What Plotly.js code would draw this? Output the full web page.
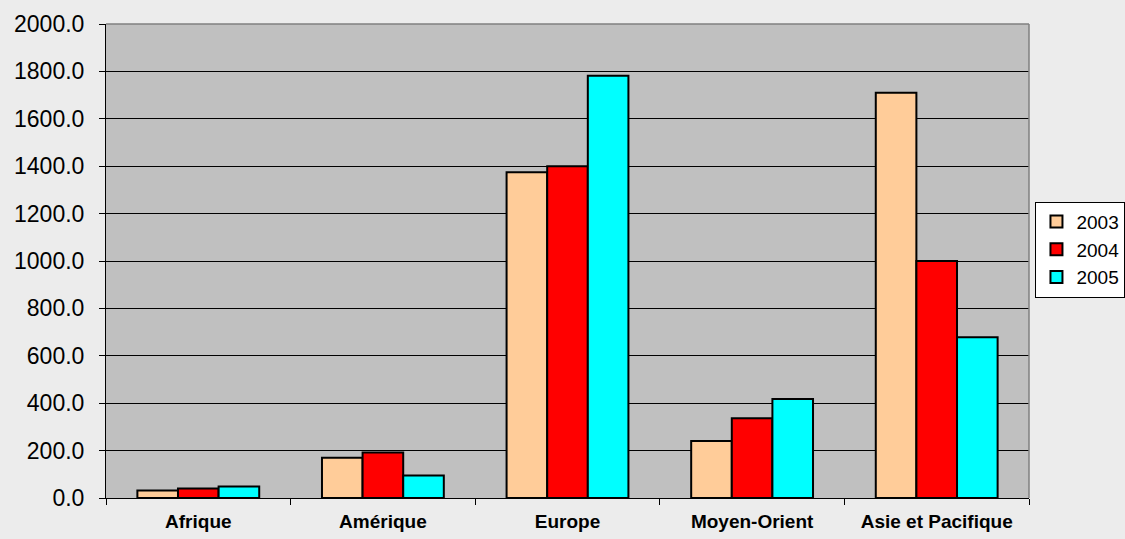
<!DOCTYPE html>
<html>
<head>
<meta charset="utf-8">
<script src="https://cdn.plot.ly/plotly-3.0.1.min.js"></script>
<style>
html,body{margin:0;padding:0;background:#ececec;}
#chart{width:1125px;height:539px;}
</style>
</head>
<body>
<div id="chart"></div>
<script>
var categories = ["Afrique", "Amérique", "Europe", "Moyen-Orient", "Asie et Pacifique"];
var values2003 = [32, 170, 1375, 240, 1710];
var values2004 = [40, 192, 1400, 337, 1000];
var values2005 = [48, 95, 1782, 418, 678];
var seriesNames = ["2003", "2004", "2005"];
var seriesColors = ["#ffcc99", "#ff0000", "#00ffff"];
var yTicks = [0, 200, 400, 600, 800, 1000, 1200, 1400, 1600, 1800, 2000];

var allValues = [values2003, values2004, values2005];
var traces = allValues.map(function (vals, i) {
  return {
    type: "bar",
    name: seriesNames[i],
    x: categories,
    y: vals,
    marker: { color: seriesColors[i], line: { color: "#000000", width: 2 } },
    hoverinfo: "x+y+name"
  };
});

var layout = {
  width: 1125,
  height: 539,
  margin: { l: 106, r: 96, t: 24, b: 41, autoexpand: false },
  paper_bgcolor: "#ececec",
  plot_bgcolor: "#c0c0c0",
  barmode: "group",
  bargap: 0.34,
  bargroupgap: 0,
  showlegend: true,
  font: { family: "Liberation Sans, Arial, sans-serif", color: "#000000" },
  xaxis: {
    type: "category",
    showline: true,
    linecolor: "#000000",
    linewidth: 1,
    ticks: "outside",
    tickson: "boundaries",
    ticklen: 6,
    tickcolor: "#000000",
    ticklabelstandoff: 6,
    tickfont: { size: 19, family: "Liberation Sans, Arial, sans-serif", weight: "bold" },
    showgrid: false,
    zeroline: false,
    fixedrange: true
  },
  yaxis: {
    range: [0, 2000],
    tickvals: yTicks,
    tickformat: ".1f",
    showline: true,
    linecolor: "#000000",
    linewidth: 1,
    ticks: "outside",
    ticklen: 6,
    tickcolor: "#000000",
    ticklabelstandoff: 10,
    tickfont: { size: 23, family: "Liberation Sans, Arial, sans-serif" },
    showgrid: true,
    gridcolor: "#000000",
    gridwidth: 1,
    zeroline: false,
    fixedrange: true
  },
  legend: {
    x: 1.007,
    xanchor: "left",
    y: 0.625,
    yanchor: "top",
    bgcolor: "#ffffff",
    bordercolor: "#000000",
    borderwidth: 1,
    font: { size: 19, family: "Liberation Sans, Arial, sans-serif" },
    itemwidth: 30,
    tracegroupgap: 0
  },
  shapes: [
    { type: "line", xref: "paper", yref: "paper", x0: 0, x1: 1, y0: 1, y1: 1,
      line: { color: "#808080", width: 1.5 } },
    { type: "line", xref: "paper", yref: "paper", x0: 1, x1: 1, y0: 0, y1: 1,
      line: { color: "#808080", width: 1.5 } }
  ]
};

Plotly.newPlot("chart", traces, layout, { displayModeBar: false, staticPlot: true });
</script>
</body>
</html>
